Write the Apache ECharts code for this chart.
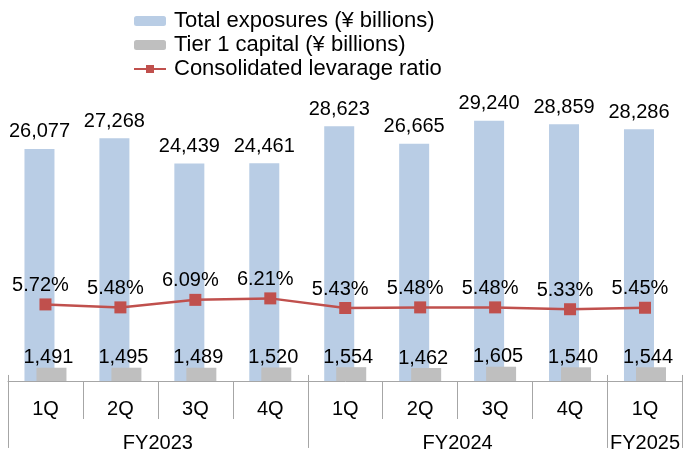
<!DOCTYPE html>
<html>
<head>
<meta charset="utf-8">
<script src="https://cdn.jsdelivr.net/npm/echarts@6/dist/echarts.min.js"></script>
<style>
  html, body { margin: 0; padding: 0; background: #fff; }
  #main { width: 683px; height: 454px; }
</style>
</head>
<body>
<div id="main"></div>
<script>
var quarters = ['1Q', '2Q', '3Q', '4Q', '1Q', '2Q', '3Q', '4Q', '1Q'];
var fiscalYears = ['FY2023', 'FY2024', 'FY2025'];
var fiscalYearMid = [2, 6, 8.5];      // centre of each FY group, in category units
var fiscalYearEdges = [0, 4, 8, 9];   // group boundaries
var totalExposures = [26077, 27268, 24439, 24461, 28623, 26665, 29240, 28859, 28286];
var tier1Capital = [1491, 1495, 1489, 1520, 1554, 1462, 1605, 1540, 1544];
var leverageRatio = [5.72, 5.48, 6.09, 6.21, 5.43, 5.48, 5.48, 5.33, 5.45];

var font = "'Liberation Sans', Arial, sans-serif";
var fmt = function (v) { return v.toLocaleString('en-US'); };

var myChart = echarts.init(document.getElementById('main'));
myChart.setOption({
  animation: false,
  textStyle: { fontFamily: font, color: '#000' },
  legend: {
    orient: 'vertical',
    left: 128,
    top: 5,
    itemWidth: 32,
    itemHeight: 10,
    itemGap: 2,
    textStyle: { fontSize: 22, color: '#000', fontFamily: font, padding: [0, 0, 0, 3] },
    data: ['Total exposures (¥ billions)', 'Tier 1 capital (¥ billions)', 'Consolidated levarage ratio']
  },
  grid: { left: 8, right: 0, top: 25, bottom: 73 },
  xAxis: [{
    type: 'category',
    data: quarters,
    position: 'bottom',
    axisLine: { lineStyle: { color: '#a6a6a6', width: 1 } },
    axisTick: { show: true, interval: 0, length: 38, lineStyle: { color: '#a6a6a6' } },
    axisLabel: { interval: 0, fontSize: 20, color: '#000', margin: 18 }
  }, {
    type: 'value',
    min: 0,
    max: 9,
    position: 'bottom',
    axisLine: { show: false },
    splitLine: { show: false },
    axisTick: { show: true, customValues: fiscalYearEdges, length: 73, lineStyle: { color: '#a6a6a6' } },
    axisLabel: {
      customValues: fiscalYearMid,
      fontSize: 20, color: '#000', margin: 52,
      formatter: function (v) { return fiscalYears[fiscalYearMid.indexOf(v)]; }
    }
  }],
  yAxis: [{
    type: 'value', min: 0, max: 40000, show: false
  }, {
    type: 'value', min: -0.49, max: 28.38, show: false
  }],
  series: [{
    name: 'Total exposures (¥ billions)',
    type: 'bar',
    data: totalExposures,
    barWidth: 30,
    barGap: '-60%',
    itemStyle: { color: '#b9cde5' },
    label: {
      show: true, position: 'top', distance: 7, fontSize: 20, color: '#000',
      formatter: function (p) { return fmt(p.value); }
    }
  }, {
    name: 'Tier 1 capital (¥ billions)',
    type: 'bar',
    data: tier1Capital,
    barWidth: 30,
    itemStyle: { color: '#bfbfbf' },
    label: {
      show: true, position: 'top', distance: 0, fontSize: 20, color: '#000', offset: [-3, 0],
      formatter: function (p) { return fmt(p.value); }
    }
  }, {
    name: 'Consolidated levarage ratio',
    type: 'line',
    yAxisIndex: 1,
    data: leverageRatio,
    symbol: 'rect',
    symbolSize: 12,
    itemStyle: { color: '#c0504d' },
    lineStyle: { color: '#c0504d', width: 2.5 },
    label: {
      show: true, position: 'top', distance: 3, fontSize: 20, color: '#000', offset: [-5, 0],
      formatter: function (p) { return p.value.toFixed(2) + '%'; }
    }
  }]
});
</script>
</body>
</html>
